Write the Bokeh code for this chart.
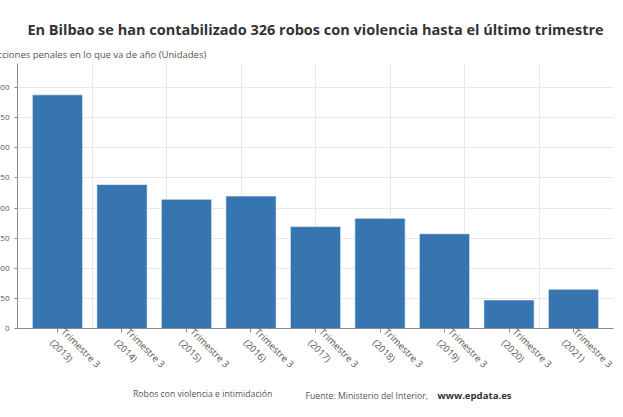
import math
from bokeh.plotting import figure
from bokeh.layouts import column
from bokeh.models import (FixedTicker, Grid, Legend, LegendItem, ColumnDataSource, Range1d,
                          Title, Label)
from bokeh.embed import file_html
from bokeh.resources import INLINE

# ---- data ----
years = ["2013", "2014", "2015", "2016", "2017", "2018", "2019", "2020", "2021"]
categories = ["Trimestre 3\n(" + y + ")" for y in years]
robos = [1940, 1195, 1073, 1100, 846, 915, 787, 237, 326]
y_ticks = [0, 250, 500, 750, 1000, 1250, 1500, 1750, 2000]

title_text = "En Bilbao se han contabilizado 326 robos con violencia hasta el último trimestre"
subtitle_text = "Infracciones penales en lo que va de año (Unidades)"
series_name = "Robos con violencia e intimidación"
source_text = "Fuente: Ministerio del Interior, "
source_link = "www.epdata.es"

FONT = "Open Sans"
BAR = "#3775b1"
GRID = "#e8e8e8"
AXIS = "#8a8a8a"
TXT = "#555555"

x_start, x_end = -0.62, 8.62
p = figure(width=638, height=398, output_backend="svg", toolbar_location=None,
           x_range=Range1d(x_start, x_end), y_range=Range1d(0, 2200),
           min_border_left=40, min_border_right=2, min_border_top=63, min_border_bottom=70,
           outline_line_color=None)
p.title = None

src = ColumnDataSource(dict(x=list(range(len(years))), top=robos, label=categories))
bars = p.vbar(x="x", top="top", source=src, width=0.78, fill_color=BAR,
              line_color="#ffffff", line_width=0.6)

# x axis
p.xaxis.ticker = FixedTicker(ticks=list(range(len(years))))
p.xaxis.major_label_overrides = {i: c for i, c in enumerate(categories)}
p.xaxis.major_label_orientation = -math.pi / 4
p.xaxis.major_label_text_font = FONT
p.xaxis.major_label_text_font_size = "9.5px"
p.xaxis.major_label_text_color = TXT
p.xaxis.axis_line_color = AXIS
p.xaxis.major_tick_line_color = AXIS
p.xaxis.major_tick_out = 4
p.xaxis.major_tick_in = 0
p.xaxis.minor_tick_line_color = None
p.xaxis.major_label_standoff = 3

# y axis
p.yaxis.ticker = FixedTicker(ticks=y_ticks)
p.yaxis.major_label_text_font = FONT
p.yaxis.major_label_text_font_size = "8px"
p.yaxis.major_label_text_color = TXT
p.yaxis.axis_line_color = AXIS
p.yaxis.major_tick_line_color = AXIS
p.yaxis.major_tick_out = 3
p.yaxis.major_tick_in = 0
p.yaxis.minor_tick_line_color = None
p.yaxis.major_label_standoff = 5

# grids
p.ygrid.grid_line_color = GRID
p.xgrid.visible = False
n_div = 8
vt = [x_start + k * (x_end - x_start) / n_div for k in range(1, n_div + 1)]
p.add_layout(Grid(dimension=0, ticker=FixedTicker(ticks=vt), grid_line_color=GRID))

# titles
p.add_layout(Title(text=subtitle_text, align="left", offset=-41, standoff=6,
                   text_font=FONT, text_font_size="9.5px", text_font_style="normal",
                   text_color=TXT), "above")
p.add_layout(Title(text=title_text, align="center", standoff=8,
                   text_font=FONT, text_font_size="14.5px", text_font_style="bold",
                   text_color="#333333"), "above")

# ---- footer: legend + source (transparent strip overlapping the bottom margin) ----
f = figure(width=638, height=24, output_backend="svg", toolbar_location=None,
           x_range=Range1d(x_start, x_end), y_range=Range1d(0, 1),
           min_border_left=40, min_border_right=2, min_border_top=0, min_border_bottom=0,
           margin=(-14, 0, 0, 0), outline_line_color=None,
           background_fill_alpha=0, border_fill_alpha=0)
f.xaxis.visible = False
f.yaxis.visible = False
f.grid.visible = False
# a renderer with no rows: it draws nothing and only supplies the legend swatch
legend_src = ColumnDataSource(dict(x=[], top=[]))
f_bars = f.vbar(x="x", top="top", source=legend_src, width=0.78,
                fill_color=BAR, line_color="#ffffff", line_width=0.6)
legend = Legend(items=[LegendItem(label=series_name, renderers=[f_bars])],
                location=(104, 8), orientation="horizontal",
                glyph_width=7, glyph_height=7, label_standoff=5, padding=0, margin=0,
                border_line_color=None, background_fill_alpha=0,
                label_text_font=FONT, label_text_font_size="8.7px", label_text_color=TXT,
                label_height=10)
f.add_layout(legend, "center")
f.add_layout(Label(x=288, y=13, x_units="screen", y_units="screen", text=source_text,
                   text_font=FONT, text_font_size="8.7px", text_color=TXT,
                   text_align="left", text_baseline="middle"))
f.add_layout(Label(x=420, y=13, x_units="screen", y_units="screen", text=source_link,
                   text_font=FONT, text_font_size="9.6px", text_color="#333333",
                   text_font_style="bold", text_align="left", text_baseline="middle"))

layout = column(p, f, spacing=0, margin=(0, 0, 0, -23))
open("out.html", "w").write(file_html(layout, INLINE))
